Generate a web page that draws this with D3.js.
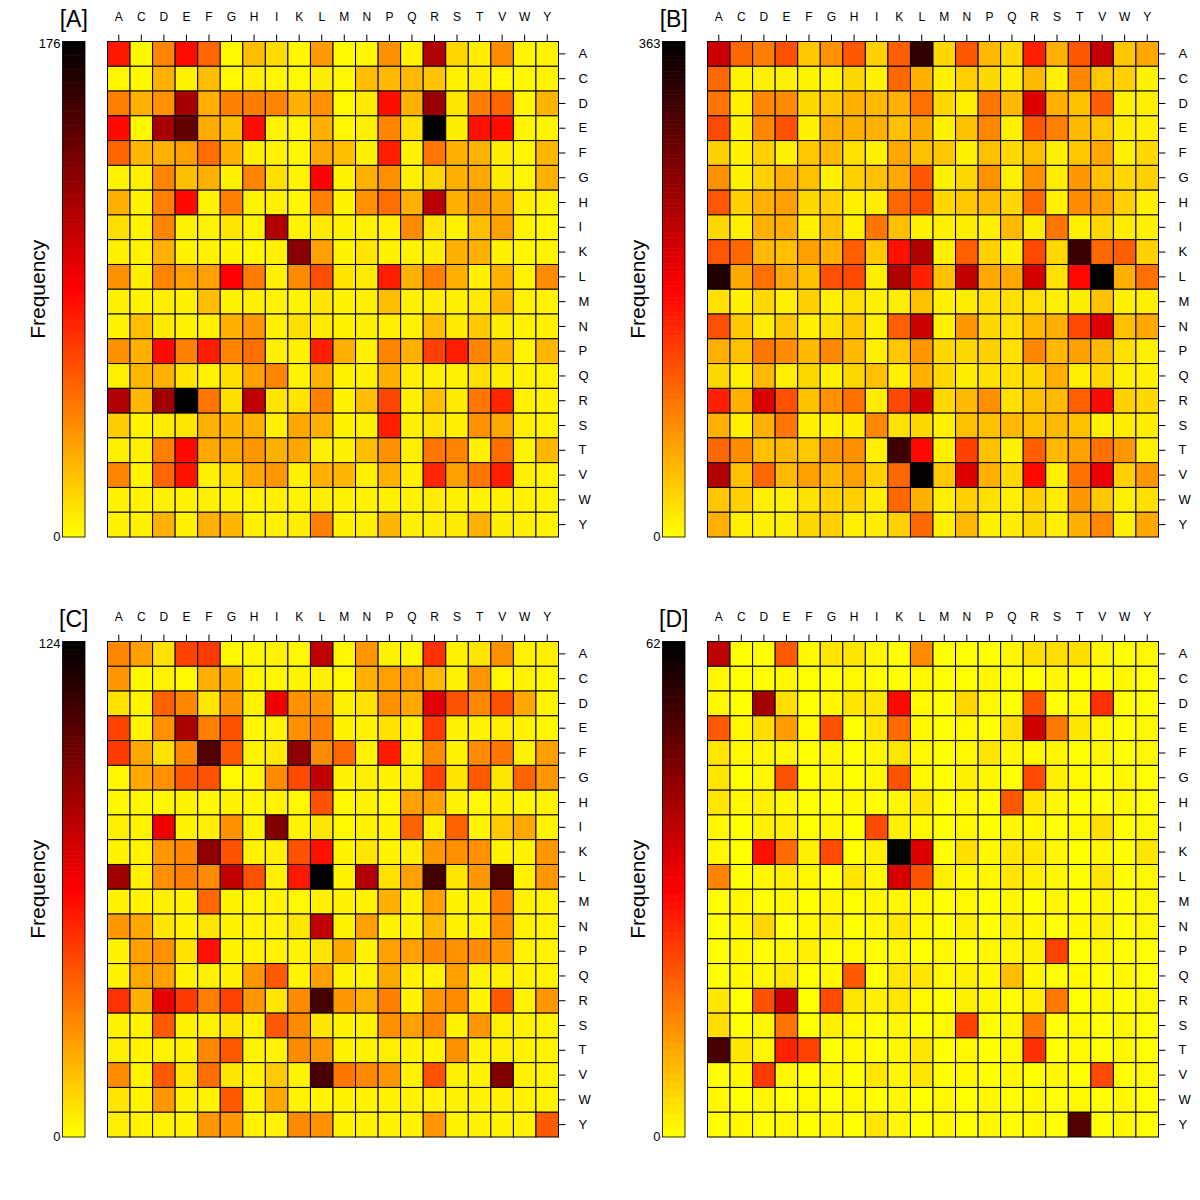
<!DOCTYPE html>
<html>
<head>
<meta charset="utf-8">
<script src="https://cdn.jsdelivr.net/npm/d3@7"></script>
<style>
  body { margin: 0; background: #fff; }
  text { font-family: "Liberation Sans", Arial, sans-serif; }
</style>
</head>
<body>
<div id="chart"></div>
<script>
// Amino acid labels (columns and rows)
const residues = ["A","C","D","E","F","G","H","I","K","L","M","N","P","Q","R","S","T","V","W","Y"];

// Panel titles and colour bar maxima
const panelNames = ["[A]", "[B]", "[C]", "[D]"];
const panelMax = [176, 363, 124, 62];

// Frequencies, one row per residue (rows A..Y, cols A..Y)
const freqA = [
  [80,2,42,84,53,3,22,12,3,35,2,3,38,4,115,14,6,40,3,4],
  [3,2,27,4,22,3,5,3,2,6,3,22,24,24,20,4,6,3,2,4],
  [44,27,38,118,28,44,45,42,27,38,3,7,84,27,124,9,45,53,3,26],
  [85,3,118,141,29,22,84,4,3,27,3,5,42,10,176,6,82,84,3,4],
  [53,25,27,33,50,27,5,4,3,30,22,5,78,4,47,27,26,6,3,25],
  [4,5,42,22,27,5,42,11,4,88,4,27,38,5,14,27,30,7,3,27],
  [27,4,44,85,4,44,4,5,3,44,4,38,50,27,112,27,36,30,5,4],
  [11,4,42,4,4,9,4,115,4,7,4,4,5,40,9,4,22,33,4,3],
  [5,4,27,4,4,4,3,5,129,33,4,9,5,4,6,27,27,5,3,4],
  [38,6,42,33,33,88,45,5,40,61,9,7,78,27,44,27,5,27,4,40],
  [5,4,6,5,22,4,5,4,4,9,4,5,22,5,6,5,7,25,4,4],
  [4,22,7,4,5,27,36,5,11,7,4,5,5,4,22,7,19,6,4,5],
  [38,27,85,44,78,42,50,5,5,78,27,5,42,27,66,78,42,27,4,25],
  [5,25,27,9,4,11,33,42,4,27,4,5,27,5,5,4,11,6,4,4],
  [115,25,121,176,47,11,110,9,9,44,4,22,64,5,22,7,47,75,4,5],
  [17,4,7,9,27,25,27,5,30,27,4,5,78,5,9,5,38,30,5,4],
  [5,5,44,85,30,30,36,27,30,5,5,22,38,5,47,42,5,50,4,25],
  [42,4,53,82,5,11,30,36,5,27,25,5,27,5,75,33,47,78,5,4],
  [4,4,5,4,5,4,4,5,4,6,4,4,5,4,6,5,4,5,4,4],
  [4,5,27,5,27,25,5,5,6,44,5,5,25,5,6,7,27,6,5,4]
];

const freqB = [
  [218,108,91,125,40,79,120,33,114,329,28,120,50,28,159,56,120,225,40,62],
  [108,8,9,11,8,8,28,10,108,56,9,33,28,10,50,10,85,40,33,9],
  [97,10,85,82,28,40,56,50,56,102,28,11,97,50,204,56,45,114,9,11],
  [130,9,85,125,10,56,56,56,45,62,9,45,85,10,120,91,50,40,12,10],
  [33,9,33,10,40,50,22,9,62,45,40,10,45,28,45,10,40,62,10,28],
  [79,9,33,56,45,10,33,45,62,120,9,28,79,11,79,12,74,45,28,33],
  [120,33,56,68,28,33,11,12,108,125,28,40,50,28,108,11,82,68,33,10],
  [28,10,56,56,11,45,11,97,45,11,10,12,11,50,12,97,11,28,12,10],
  [120,108,50,45,68,56,114,40,170,238,11,114,33,10,130,28,320,108,114,33],
  [340,62,102,62,45,125,130,12,238,159,45,225,62,62,213,22,176,363,56,102],
  [22,10,28,11,33,10,22,10,12,45,10,12,22,22,22,11,12,45,10,11],
  [125,40,12,40,10,22,40,11,114,220,10,74,28,22,50,56,130,204,45,62],
  [56,45,97,82,50,85,50,11,40,74,28,28,33,22,85,50,68,50,22,11],
  [28,10,50,11,28,10,28,45,11,56,28,12,22,22,28,56,11,28,10,11],
  [159,56,208,125,45,79,102,12,130,213,28,50,79,22,45,50,114,176,33,28],
  [56,10,56,97,11,10,12,85,22,28,10,45,45,50,45,50,45,11,12,12],
  [108,82,45,50,40,74,79,11,318,176,11,136,45,10,114,50,68,102,74,11],
  [238,45,108,50,68,50,68,33,108,360,40,204,56,28,176,11,102,195,33,74],
  [40,33,10,11,22,33,33,12,108,56,11,33,22,11,33,12,74,40,11,22],
  [56,11,10,12,28,33,11,12,33,108,11,50,11,12,28,11,56,85,11,62]
];

const freqC = [
  [29,23,7,46,48,2,2,3,2,78,2,25,3,2,50,3,6,27,3,4],
  [25,2,3,2,19,19,2,2,3,4,2,19,23,23,17,3,25,2,3,2],
  [7,3,38,29,6,25,3,66,27,25,4,7,27,21,69,42,29,42,21,3],
  [46,3,27,83,31,42,2,3,27,31,3,3,7,3,48,3,3,4,3,2],
  [48,21,7,29,104,40,3,5,90,28,37,3,56,3,28,3,28,33,3,23],
  [2,21,27,40,42,2,2,28,44,77,3,4,3,4,46,6,40,6,38,25],
  [2,2,2,3,2,3,2,3,2,42,2,3,2,23,23,3,2,3,2,3],
  [4,3,66,3,4,27,3,93,3,6,2,3,3,38,4,38,3,13,21,3],
  [3,3,25,29,89,42,3,4,42,58,3,6,3,4,25,27,27,3,3,25],
  [85,4,27,31,28,77,42,4,56,124,3,81,7,23,108,6,25,104,3,25],
  [3,3,4,3,37,3,2,3,2,4,3,3,19,3,23,3,3,31,3,3],
  [25,21,6,3,6,3,3,3,6,77,3,23,3,3,17,3,3,28,3,3],
  [3,23,27,7,58,3,3,3,3,6,21,3,23,23,29,27,28,25,3,3],
  [3,21,23,3,3,4,25,40,3,23,3,3,21,3,3,23,3,4,3,3],
  [50,19,68,48,31,46,25,6,28,107,25,19,31,3,25,28,3,40,3,25],
  [3,3,40,3,3,6,3,40,28,6,3,3,27,23,29,3,25,4,3,3],
  [4,3,3,3,29,40,3,3,28,25,3,3,4,3,3,27,3,4,3,3],
  [28,3,40,6,35,6,3,13,3,106,33,29,25,3,42,4,3,93,3,3],
  [6,3,25,3,3,40,3,21,3,3,3,3,3,3,3,3,3,4,3,3],
  [4,3,3,3,25,25,3,3,28,27,3,3,3,3,25,3,3,3,3,40]
];

const freqD = [
  [39,0,0,20,1,3,3,1,0,14,0,0,0,1,4,4,4,1,0,1],
  [1,0,0,1,0,0,1,0,0,1,0,0,1,0,0,1,0,0,1,0],
  [1,0,42,4,0,1,3,3,30,1,0,5,1,0,21,0,1,25,0,0],
  [20,1,4,12,1,21,0,3,18,1,0,1,0,4,37,16,3,1,0,1],
  [3,1,1,1,0,1,0,1,3,1,0,1,3,1,1,1,0,1,0,1],
  [3,0,1,21,0,1,0,1,21,1,0,2,1,0,22,2,1,0,1,0],
  [3,1,2,1,0,0,1,0,1,3,0,1,0,20,3,1,0,0,1,0],
  [1,0,2,2,0,1,0,22,2,1,0,1,0,1,1,0,1,4,0,1],
  [1,0,29,18,2,22,0,2,62,35,0,4,1,3,3,1,0,1,0,3],
  [15,0,1,2,1,0,3,1,36,21,2,1,1,3,2,1,0,3,0,1],
  [0,1,0,1,0,1,0,1,1,1,0,1,0,1,0,1,0,1,0,1],
  [0,1,5,0,1,2,0,1,3,1,0,2,0,2,1,0,1,2,0,1],
  [0,1,0,1,2,0,1,0,1,0,1,0,1,1,2,23,0,1,0,0],
  [0,1,1,3,0,1,20,0,3,3,1,2,1,8,1,0,1,0,1,0],
  [3,0,21,37,0,22,3,2,3,1,0,2,1,0,2,16,0,1,0,1],
  [4,0,1,17,0,2,1,0,1,0,1,23,0,1,16,0,1,0,1,0],
  [53,3,1,27,23,0,1,0,1,3,0,1,0,1,25,0,1,0,1,0],
  [0,1,24,1,0,1,0,3,1,3,0,1,0,1,0,1,0,22,0,1],
  [1,0,1,0,1,0,1,0,1,0,1,0,1,0,1,0,1,0,1,0],
  [0,1,0,1,0,1,0,3,1,0,1,0,1,0,1,0,52,0,1,0]
];

const panelData = [freqA, freqB, freqC, freqD];

// Layout of the four panels
const panelOrigin = [[0, 0], [600, 0], [0, 600], [600, 600]];
const gridLeft = 107.5, gridTop = 41.5, gridW = 451, gridH = 495.5;
const barLeft = 62.5, barW = 22.5;

const svg = d3.select("#chart").append("svg")
    .attr("width", 1200)
    .attr("height", 1200);

const x = d3.scaleBand().domain(residues).range([gridLeft, gridLeft + gridW]);
const y = d3.scaleBand().domain(residues).range([gridTop, gridTop + gridH]);

panelData.forEach((data, p) => {
    const vmax = panelMax[p];
    // yellow -> red -> black, like the original colour bar
    const color = d3.scaleLinear()
        .domain([0, vmax / 2, vmax])
        .range(["#ffff00", "#ff0000", "#000000"])
        .clamp(true);

    const g = svg.append("g")
        .attr("transform", `translate(${panelOrigin[p][0]},${panelOrigin[p][1]})`);

    // cells
    const cells = [];
    data.forEach((row, i) => row.forEach((v, j) => cells.push({ r: residues[i], c: residues[j], v })));

    g.selectAll("rect.cell")
        .data(cells)
        .enter()
        .append("rect")
        .attr("class", "cell")
        .attr("x", d => x(d.c))
        .attr("y", d => y(d.r))
        .attr("width", x.bandwidth())
        .attr("height", y.bandwidth())
        .attr("fill", d => color(d.v))
        .attr("stroke", "#000")
        .attr("stroke-width", 1);

    // axes
    const top = g.append("g")
        .attr("transform", `translate(0,${gridTop})`)
        .call(d3.axisTop(x).tickSize(7).tickPadding(14));
    const right = g.append("g")
        .attr("transform", `translate(${gridLeft + gridW},0)`)
        .call(d3.axisRight(y).tickSize(7).tickPadding(13));
    [top, right].forEach(a => {
        a.select(".domain").remove();
        a.selectAll("text").attr("font-size", 12).attr("fill", "#000")
            .style("font-family", "'Liberation Sans', Arial, sans-serif");
        a.selectAll("line").attr("stroke", "#000");
    });
    right.selectAll("text").attr("font-size", 13);

    // colour bar, one band per count value
    const bands = d3.range(vmax + 1);
    const bandScale = d3.scaleBand().domain(bands).range([gridTop + gridH, gridTop]);
    g.selectAll("rect.band")
        .data(bands)
        .enter()
        .append("rect")
        .attr("class", "band")
        .attr("x", barLeft)
        .attr("y", d => bandScale(d) - 0.3)
        .attr("width", barW)
        .attr("height", bandScale.bandwidth() + 0.6)
        .attr("fill", d => color(d));
    g.append("rect")
        .attr("x", barLeft)
        .attr("y", gridTop)
        .attr("width", barW)
        .attr("height", gridH)
        .attr("fill", "none")
        .attr("stroke", "#000")
        .attr("stroke-width", 0.8);

    g.append("text")
        .attr("x", barLeft - 2)
        .attr("y", gridTop + 6)
        .attr("text-anchor", "end")
        .attr("font-size", 13)
        .text(vmax);
    g.append("text")
        .attr("x", barLeft - 2)
        .attr("y", gridTop + gridH + 4)
        .attr("text-anchor", "end")
        .attr("font-size", 13)
        .text(0);

    g.append("text")
        .attr("x", barLeft + barW / 2)
        .attr("y", 27)
        .attr("text-anchor", "middle")
        .attr("font-size", 23)
        .text(panelNames[p]);

    g.append("text")
        .attr("transform", `translate(45,${gridTop + gridH / 2}) rotate(-90)`)
        .attr("text-anchor", "middle")
        .attr("font-size", 21)
        .text("Frequency");
});
</script>
</body>
</html>
